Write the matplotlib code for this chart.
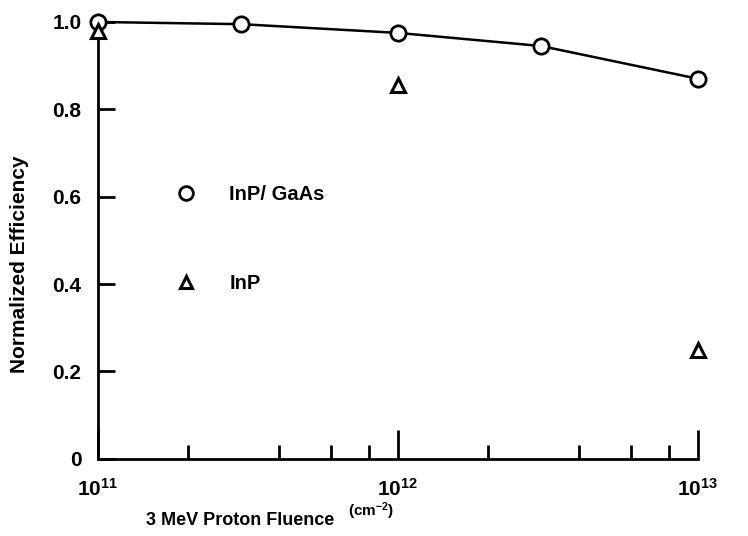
import matplotlib
matplotlib.use('Agg')
import matplotlib.pyplot as plt
from matplotlib.ticker import LogLocator, NullFormatter, FixedLocator

plt.rcParams['font.family'] = ['Liberation Sans', 'DejaVu Sans']
plt.rcParams['font.weight'] = 'bold'
plt.rcParams['mathtext.fontset'] = 'custom'
plt.rcParams['mathtext.rm'] = 'Liberation Sans:bold'
plt.rcParams['mathtext.it'] = 'Liberation Sans:bold'

# data
fluence_gaas = [1e11, 3e11, 1e12, 3e12, 1e13]
eff_gaas = [1.0, 0.995, 0.975, 0.945, 0.87]
fluence_inp = [1e11, 1e12, 1e13]
eff_inp = [0.98, 0.855, 0.25]

y_ticks = [0, 0.2, 0.4, 0.6, 0.8, 1.0]
y_labels = ['0', '0.2', '0.4', '0.6', '0.8', '1.0']
x_ticks = [1e11, 1e12, 1e13]
x_labels = ['$10^{11}$', '$10^{12}$', '$10^{13}$']

fig = plt.figure(figsize=(7.48, 5.36), dpi=100)
ax = fig.add_axes([0.131, 0.144, 0.802, 0.815])

ax.plot(fluence_gaas, eff_gaas, '-', color='black', lw=1.8, clip_on=False, zorder=2)
ax.plot(fluence_gaas, eff_gaas, 'o', ms=11, mfc='white', mec='black', mew=2,
        clip_on=False, zorder=3, label='InP/ GaAs')
ax.plot(fluence_inp, eff_inp, '^', ms=10, mfc='white', mec='black', mew=2.2,
        clip_on=False, zorder=3, label='InP')

ax.set_xscale('log')
ax.set_xlim(1e11, 1e13)
ax.set_ylim(0, 1.0)

ax.xaxis.set_major_locator(FixedLocator(x_ticks))
ax.set_xticklabels(x_labels)
ax.xaxis.set_minor_locator(LogLocator(base=10, subs=[2, 4, 6, 8]))
ax.xaxis.set_minor_formatter(NullFormatter())
ax.set_yticks(y_ticks)
ax.set_yticklabels(y_labels)

for s in ['top', 'right']:
    ax.spines[s].set_visible(False)
for s in ['left', 'bottom']:
    ax.spines[s].set_linewidth(2)

ax.tick_params(axis='x', which='major', direction='in', length=21, width=2,
               pad=14, labelsize=15)
ax.tick_params(axis='x', which='minor', direction='in', length=10, width=2)
ax.tick_params(axis='y', direction='in', length=12, width=2, pad=12, labelsize=15)

ax.set_ylabel('Normalized Efficiency', fontsize=15, fontweight='bold')
ax.yaxis.set_label_coords(-0.115, 0.445)
ax.set_xlabel('3 MeV Proton Fluence', fontsize=13, fontweight='bold')
ax.xaxis.set_label_coords(0.237, -0.122)
fig.text(0.465, 0.046, '(cm$^{-2}$)', fontsize=11, va='center')

ax.legend(loc='upper left', bbox_to_anchor=(0.235, 0.655), bbox_transform=fig.transFigure,
          frameon=False, fontsize=14.5, borderpad=0, borderaxespad=0,
          handlelength=1, handletextpad=1.65, labelspacing=3.46, markerscale=0.9)

fig.savefig('out.png', dpi=100)
